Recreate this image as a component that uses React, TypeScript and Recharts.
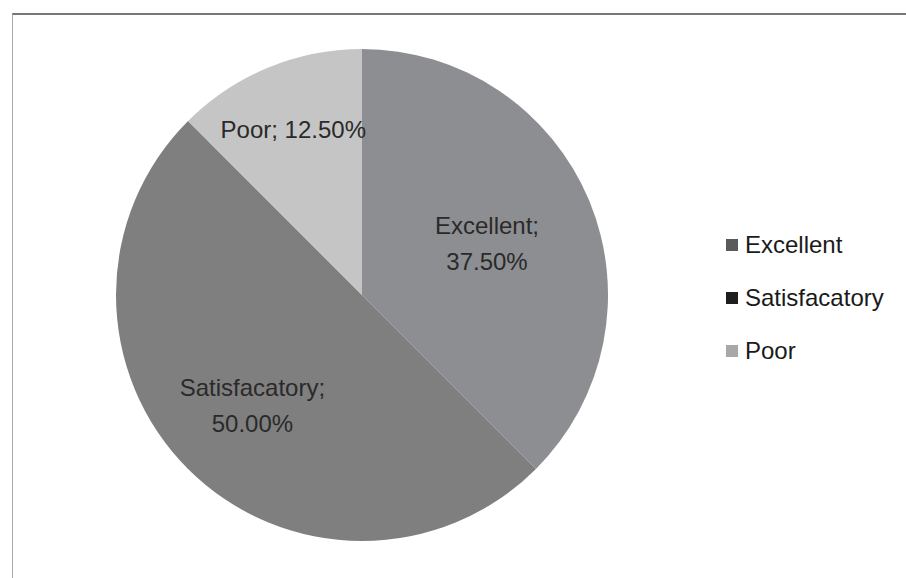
import { PieChart, Pie, Cell, Legend } from "recharts";

// values
const categories = ["Excellent", "Satisfacatory", "Poor"];
const shares = [37.5, 50.0, 12.5];

const sliceColors = ["#8d8e91", "#7f7f80", "#c5c5c5"];
const legendColors = ["#5a5a5a", "#1e1e1e", "#a8a8a8"];
// where each label sits, as a fraction of the radius
const labelRadius = [0.55, 0.63, 0.73];

const data = categories.map((name, i) => ({ name, value: shares[i] }));

const FONT = "'Liberation Sans', Arial, sans-serif";
const RAD = Math.PI / 180;

const renderLabel = (props: any) => {
  const { cx, cy, midAngle, outerRadius, index, name, value } = props;
  const r = outerRadius * labelRadius[index];
  const x = cx + r * Math.cos(-midAngle * RAD);
  const y = cy + r * Math.sin(-midAngle * RAD);
  const pct = `${value.toFixed(2)}%`;
  const lines = index === 2 ? [`${name}; ${pct}`] : [`${name};`, pct];
  return (
    <text
      x={x}
      y={y - (lines.length - 1) * 18}
      textAnchor="middle"
      dominantBaseline="central"
      fill="#2a2a2a"
      fontSize={24}
      fontFamily={FONT}
    >
      {lines.map((l, k) => (
        <tspan key={k} x={x} dy={k === 0 ? 0 : 36}>
          {l}
        </tspan>
      ))}
    </text>
  );
};

const renderLegend = () => (
  <div style={{ fontFamily: FONT, fontSize: 24, color: "#1a1a1a" }}>
    {categories.map((c, i) => (
      <div
        key={c}
        style={{ display: "flex", alignItems: "center", height: 53 }}
      >
        <span
          style={{
            display: "inline-block",
            width: 12,
            height: 12,
            background: legendColors[i],
            marginRight: 7,
          }}
        />
        {c}
      </div>
    ))}
  </div>
);

export default function App() {
  return (
    <div
      style={{
        position: "fixed",
        left: 0,
        top: 0,
        width: 906,
        height: 578,
        background: "#fff",
      }}
    >
      <div
        style={{
          position: "absolute",
          left: 12,
          top: 13,
          width: 900,
          height: 566,
          borderTop: "2px solid #777",
          borderLeft: "1px solid #aaa",
        }}
      />
      <PieChart
        width={906}
        height={578}
        margin={{ top: 0, right: 0, bottom: 0, left: 0 }}
      >
        <Pie
          data={data}
          dataKey="value"
          nameKey="name"
          cx={362}
          cy={295}
          outerRadius={246}
          startAngle={90}
          endAngle={-270}
          stroke="none"
          label={renderLabel}
          labelLine={false}
          isAnimationActive={false}
        >
          {data.map((d, i) => (
            <Cell key={d.name} fill={sliceColors[i]} />
          ))}
        </Pie>
        <Legend
          layout="vertical"
          content={renderLegend}
          wrapperStyle={{ left: 726, top: 218, width: 180 }}
        />
      </PieChart>
    </div>
  );
}
